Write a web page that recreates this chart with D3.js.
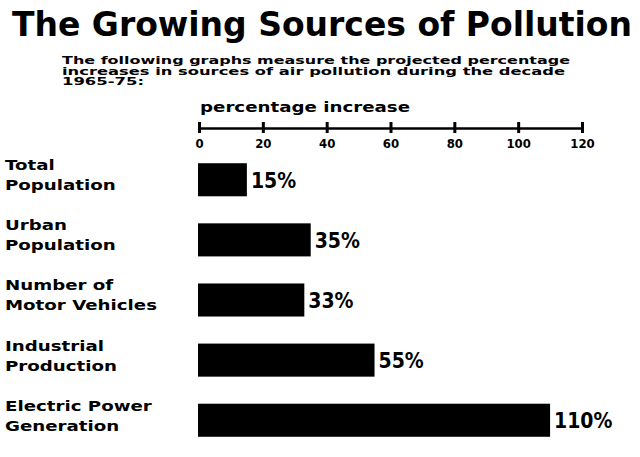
<!DOCTYPE html>
<html>
<head>
<meta charset="utf-8">
<script src="https://cdn.jsdelivr.net/npm/d3@7"></script>
<style>
  body { margin: 0; background: #fff; }
  text { font-family: "DejaVu Sans", sans-serif; font-weight: bold; fill: #000; }
</style>
</head>
<body>
<svg id="chart" width="640" height="457"></svg>
<script>
const categories = [
  ["Total", "Population"],
  ["Urban", "Population"],
  ["Number of", "Motor Vehicles"],
  ["Industrial", "Production"],
  ["Electric Power", "Generation"]
];
const values = [15, 35, 33, 55, 110];
const tickValues = [0, 20, 40, 60, 80, 100, 120];

const svg = d3.select("#chart");

svg.append("text")
  .attr("x", 12).attr("y", 36)
  .attr("textLength", 620).attr("lengthAdjust", "spacingAndGlyphs")
  .style("font-size", "33px")
  .style("font-family", "'DejaVu Sans Condensed', 'DejaVu Sans', sans-serif")
  .text("The Growing Sources of Pollution");

const sub = ["The following graphs measure the projected percentage",
             "increases in sources of air pollution during the decade",
             "1965-75:"];
const subLen = [508, 503, 82];
sub.forEach((s, i) => {
  svg.append("text")
    .attr("x", 62).attr("y", 64 + i * 10.5)
    .attr("textLength", subLen[i]).attr("lengthAdjust", "spacingAndGlyphs")
    .style("font-size", "11px")
    .text(s);
});

svg.append("text")
  .attr("x", 200).attr("y", 112)
  .attr("textLength", 210).attr("lengthAdjust", "spacingAndGlyphs")
  .style("font-size", "14px")
  .text("percentage increase");

const x = d3.scaleLinear().domain([0, 120]).range([199, 582]);

const axisY = 128;
const axis = svg.append("g")
  .attr("transform", `translate(0,${axisY})`)
  .call(d3.axisBottom(x).tickValues(tickValues).tickSize(0).tickPadding(11)
    .tickFormat(d3.format("d")));
axis.select(".domain").attr("stroke", "#000").attr("stroke-width", 2.5);
axis.selectAll(".tick text")
  .style("font-size", "13px")
  .style("font-family", "'DejaVu Sans Condensed', 'DejaVu Sans', sans-serif")
  .style("font-weight", "bold");
axis.selectAll(".tick").append("line")
  .attr("y1", -6).attr("y2", 5)
  .attr("stroke", "#000").attr("stroke-width", 3);

const y = d3.scaleBand()
  .domain(d3.range(values.length))
  .range([150, 450])
  .paddingInner(0.45).paddingOuter(0.22);

const rows = svg.selectAll(".row").data(values).join("g");

rows.append("rect")
  .attr("x", x(0) - 1)
  .attr("y", (d, i) => y(i))
  .attr("width", d => x(d) - x(0) + 1)
  .attr("height", y.bandwidth())
  .attr("fill", "#000");

rows.append("text")
  .attr("x", d => x(d) + 4)
  .attr("y", (d, i) => y(i) + y.bandwidth() / 2 + 8)
  .style("font-size", "21px")
  .style("font-family", "'DejaVu Sans Condensed', 'DejaVu Sans', sans-serif")
  .text(d => d + "%");

rows.each(function (d, i) {
  const g = d3.select(this);
  categories[i].forEach((line, j) => {
    const t = g.append("text")
      .attr("x", 5)
      .attr("y", y(i) + 7 + j * 20)
      .style("font-size", "14px")
      .text(line);
    const w = t.node().getComputedTextLength();
    t.attr("textLength", w * 1.3).attr("lengthAdjust", "spacingAndGlyphs");
  });
});
</script>
</body>
</html>
